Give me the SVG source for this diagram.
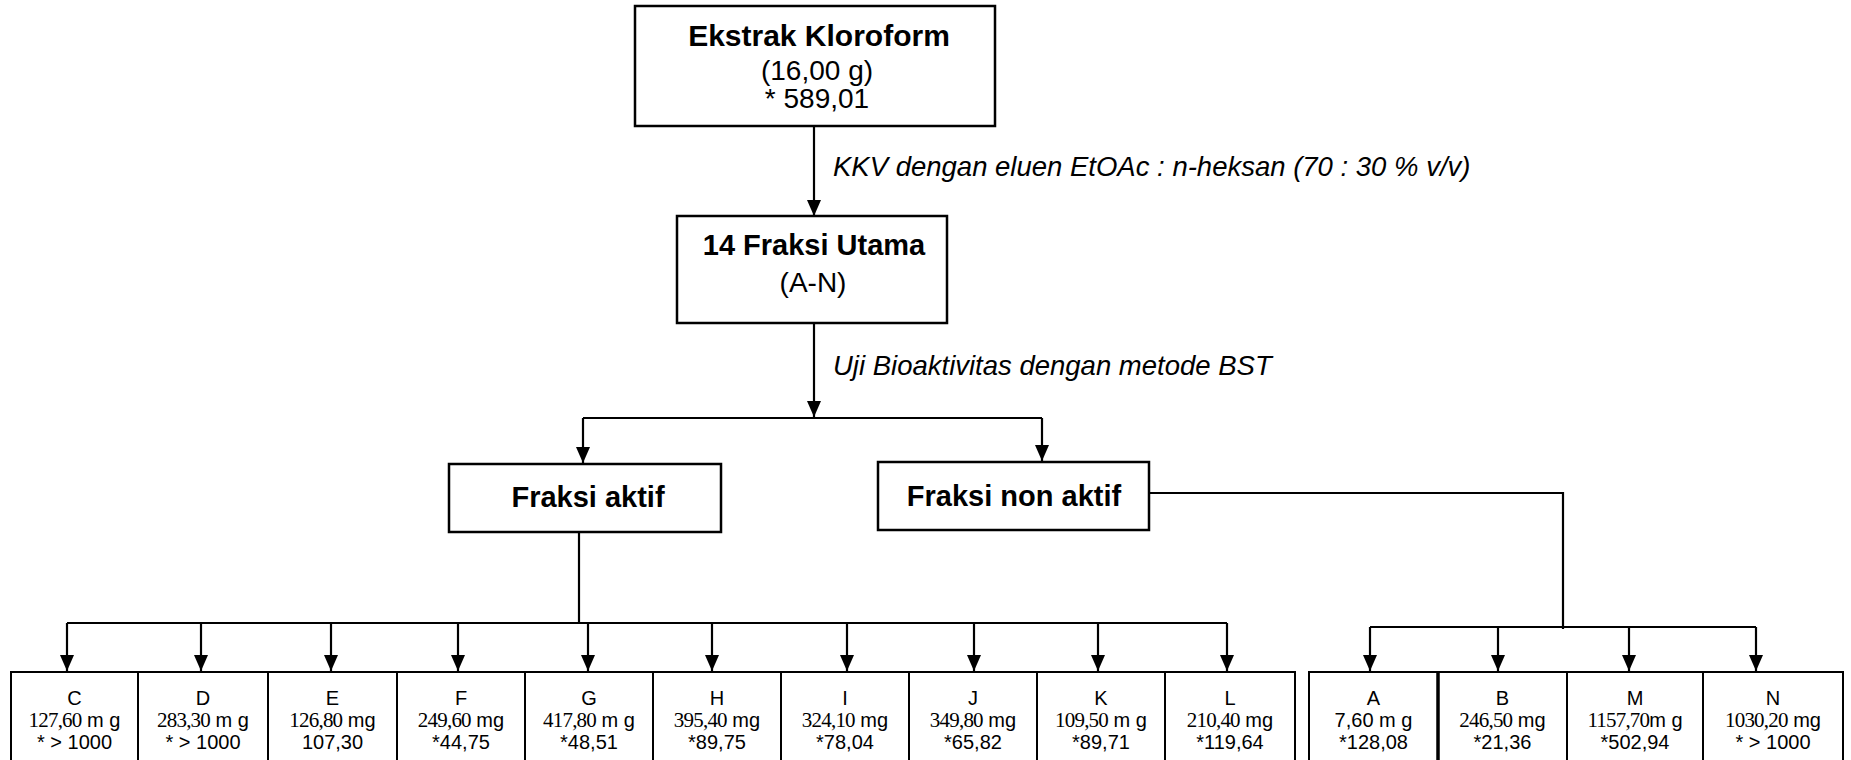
<svg xmlns="http://www.w3.org/2000/svg" width="1851" height="760" viewBox="0 0 1851 760">
<defs>
<marker id="ah" markerUnits="userSpaceOnUse" viewBox="0 0 16 14" refX="16" refY="7" markerWidth="16" markerHeight="14" orient="auto">
<path d="M0,0 L16,7 L0,14 z" fill="#000"/>
</marker>
<style>
.box{fill:#fff;stroke:#000;stroke-width:2.5}
.cell{fill:#fff;stroke:#000;stroke-width:2}
.ln{fill:none;stroke:#000;stroke-width:2.2}
.arr{fill:none;stroke:#000;stroke-width:2.2;marker-end:url(#ah)}
.hb{font-family:"Liberation Sans",Arial,sans-serif;font-weight:bold;font-size:29px;text-anchor:middle;fill:#000}
.hr{font-family:"Liberation Sans",Arial,sans-serif;font-size:28px;text-anchor:middle;fill:#000}
.lab{font-family:"Liberation Sans",Arial,sans-serif;font-style:italic;font-size:27.5px;fill:#000}
.ct{font-family:"Liberation Sans",Arial,sans-serif;font-size:20px;text-anchor:middle;fill:#000}
.sf{font-family:"Liberation Serif","Times New Roman",serif;font-size:21px;letter-spacing:-0.8px}
</style>
</defs>
<rect width="1851" height="760" fill="#fff"/>

<g id="connectors">
<line class="arr" x1="814" y1="126" x2="814" y2="216"/>
<line class="arr" x1="814" y1="323" x2="814" y2="417"/>
<line class="ln" x1="583" y1="418" x2="1042" y2="418"/>
<line class="arr" x1="583" y1="418" x2="583" y2="463"/>
<line class="arr" x1="1042" y1="418" x2="1042" y2="461"/>
<line class="ln" x1="579" y1="532" x2="579" y2="623"/>
<line class="ln" x1="67" y1="623" x2="1227" y2="623"/>
<line class="arr" x1="67" y1="623" x2="67" y2="671"/>
<line class="arr" x1="201" y1="623" x2="201" y2="671"/>
<line class="arr" x1="331" y1="623" x2="331" y2="671"/>
<line class="arr" x1="458" y1="623" x2="458" y2="671"/>
<line class="arr" x1="588" y1="623" x2="588" y2="671"/>
<line class="arr" x1="712" y1="623" x2="712" y2="671"/>
<line class="arr" x1="847" y1="623" x2="847" y2="671"/>
<line class="arr" x1="974" y1="623" x2="974" y2="671"/>
<line class="arr" x1="1098" y1="623" x2="1098" y2="671"/>
<line class="arr" x1="1227" y1="623" x2="1227" y2="671"/>
<polyline class="ln" points="1149,493 1563,493 1563,629"/>
<line class="ln" x1="1370" y1="627" x2="1756" y2="627"/>
<line class="arr" x1="1370" y1="627" x2="1370" y2="671"/>
<line class="arr" x1="1498" y1="627" x2="1498" y2="671"/>
<line class="arr" x1="1629" y1="627" x2="1629" y2="671"/>
<line class="arr" x1="1756" y1="627" x2="1756" y2="671"/>
</g>

<g id="labels">
<text class="lab" x="833" y="176">KKV dengan eluen EtOAc : n-heksan (70 : 30 % v/v)</text>
<text class="lab" x="833" y="375">Uji Bioaktivitas dengan metode BST</text>
</g>

<g id="ekstrak">
<rect class="box" x="635" y="6" width="360" height="120"/>
<text class="hb" x="819" y="46" style="font-size:30px">Ekstrak Kloroform</text>
<text class="hr" x="817" y="80">(16,00 g)</text>
<text class="hr" x="817" y="108">* 589,01</text>
</g>

<g id="fraksi-utama">
<rect class="box" x="677" y="216" width="270" height="107"/>
<text class="hb" x="814" y="255">14 Fraksi Utama</text>
<text class="hr" x="813" y="292">(A-N)</text>
</g>

<g id="fraksi-aktif">
<rect class="box" x="449" y="464" width="272" height="68"/>
<text class="hb" x="588" y="507">Fraksi aktif</text>
</g>

<g id="fraksi-non-aktif">
<rect class="box" x="878" y="462" width="271" height="68"/>
<text class="hb" x="1014" y="506">Fraksi non aktif</text>
</g>

<g id="cell-C"><rect class="cell" x="11" y="672" width="127" height="100"/>
<text class="ct" x="74.5" y="705">C</text><text class="ct" x="74.5" y="727"><tspan class="sf">127,60</tspan> m g</text><text class="ct" x="74.5" y="749">* &gt; 1000</text></g>
<g id="cell-D"><rect class="cell" x="138" y="672" width="130" height="100"/>
<text class="ct" x="203" y="705">D</text><text class="ct" x="203" y="727"><tspan class="sf">283,30</tspan> m g</text><text class="ct" x="203" y="749">* &gt; 1000</text></g>
<g id="cell-E"><rect class="cell" x="268" y="672" width="129" height="100"/>
<text class="ct" x="332.5" y="705">E</text><text class="ct" x="332.5" y="727"><tspan class="sf">126,80</tspan> mg</text><text class="ct" x="332.5" y="749">107,30</text></g>
<g id="cell-F"><rect class="cell" x="397" y="672" width="128" height="100"/>
<text class="ct" x="461" y="705">F</text><text class="ct" x="461" y="727"><tspan class="sf">249,60</tspan> mg</text><text class="ct" x="461" y="749">*44,75</text></g>
<g id="cell-G"><rect class="cell" x="525" y="672" width="128" height="100"/>
<text class="ct" x="589" y="705">G</text><text class="ct" x="589" y="727"><tspan class="sf">417,80</tspan> m g</text><text class="ct" x="589" y="749">*48,51</text></g>
<g id="cell-H"><rect class="cell" x="653" y="672" width="128" height="100"/>
<text class="ct" x="717" y="705">H</text><text class="ct" x="717" y="727"><tspan class="sf">395,40</tspan> mg</text><text class="ct" x="717" y="749">*89,75</text></g>
<g id="cell-I"><rect class="cell" x="781" y="672" width="128" height="100"/>
<text class="ct" x="845" y="705">I</text><text class="ct" x="845" y="727"><tspan class="sf">324,10</tspan> mg</text><text class="ct" x="845" y="749">*78,04</text></g>
<g id="cell-J"><rect class="cell" x="909" y="672" width="128" height="100"/>
<text class="ct" x="973" y="705">J</text><text class="ct" x="973" y="727"><tspan class="sf">349,80</tspan> mg</text><text class="ct" x="973" y="749">*65,82</text></g>
<g id="cell-K"><rect class="cell" x="1037" y="672" width="128" height="100"/>
<text class="ct" x="1101" y="705">K</text><text class="ct" x="1101" y="727"><tspan class="sf">109,50</tspan> m g</text><text class="ct" x="1101" y="749">*89,71</text></g>
<g id="cell-L"><rect class="cell" x="1165" y="672" width="130" height="100"/>
<text class="ct" x="1230" y="705">L</text><text class="ct" x="1230" y="727"><tspan class="sf">210,40</tspan> mg</text><text class="ct" x="1230" y="749">*119,64</text></g>

<g id="cell-A"><rect class="cell" x="1309" y="672" width="129" height="100"/>
<text class="ct" x="1373.5" y="705">A</text><text class="ct" x="1373.5" y="727">7,60 m g</text><text class="ct" x="1373.5" y="749">*128,08</text></g>
<g id="cell-B"><rect class="cell" x="1438" y="672" width="129" height="100"/>
<line x1="1438" y1="672" x2="1438" y2="772" stroke="#000" stroke-width="3.5"/>
<text class="ct" x="1502.5" y="705">B</text><text class="ct" x="1502.5" y="727"><tspan class="sf">246,50</tspan> mg</text><text class="ct" x="1502.5" y="749">*21,36</text></g>
<g id="cell-M"><rect class="cell" x="1567" y="672" width="136" height="100"/>
<text class="ct" x="1635" y="705">M</text><text class="ct" x="1635" y="727"><tspan class="sf">1157,70</tspan>m g</text><text class="ct" x="1635" y="749">*502,94</text></g>
<g id="cell-N"><rect class="cell" x="1703" y="672" width="140" height="100"/>
<text class="ct" x="1773" y="705">N</text><text class="ct" x="1773" y="727"><tspan class="sf">1030,20</tspan> mg</text><text class="ct" x="1773" y="749">* &gt; 1000</text></g>
</svg>
